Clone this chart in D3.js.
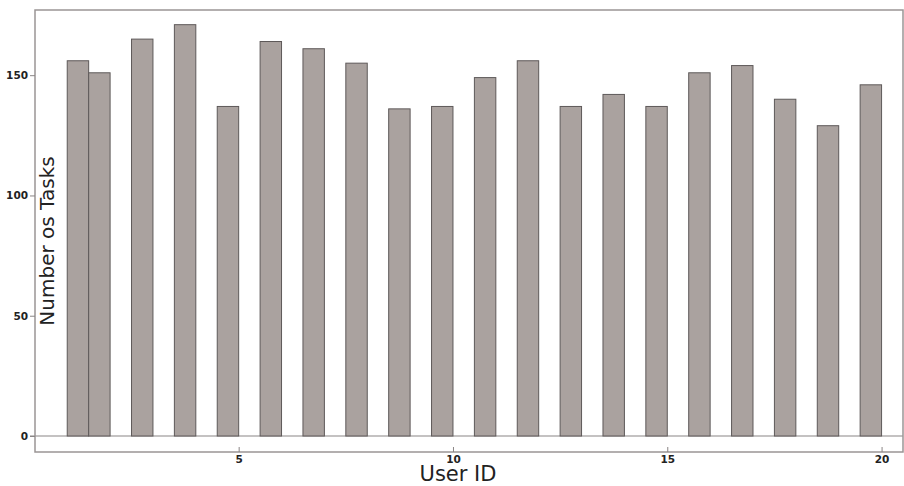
<!DOCTYPE html>
<html>
<head>
<meta charset="utf-8">
<script src="https://cdn.jsdelivr.net/npm/d3@7"></script>
<style>
  html, body { margin: 0; padding: 0; background: #fff; }
  svg { display: block; }
</style>
</head>
<body>
<svg id="chart" width="904" height="486"></svg>
<script>
// ---- data ----
const userIds   = [1, 2, 3, 4, 5, 6, 7, 8, 9, 10, 11, 12, 13, 14, 15, 16, 17, 18, 19, 20];
const barRight  = [1.5, 2, 3, 4, 5, 6, 7, 8, 9, 10, 11, 12, 13, 14, 15, 16, 17, 18, 19, 20];
const taskCount = [156, 151, 165, 171, 137, 164, 161, 155, 136, 137, 149, 156, 137, 142, 137, 151, 154, 140, 129, 146];
const xTicks = [5, 10, 15, 20];
const yTicks = [0, 50, 100, 150];
const xLabel = "User ID";
const yLabel = "Number os Tasks";

(function () {
const svg = d3.select("#chart");
const pLeft = 35, pRight = 903, pTop = 10, pBottom = 452;

const x = d3.scaleLinear().domain([0.248, 20.5]).range([pLeft, pRight]);
const y = d3.scaleLinear().domain([-6.65, 177.1]).range([pBottom, pTop]);

const data = userIds.map((u, i) => ({ u, r: barRight[i], v: taskCount[i] }));

// zero line
svg.append("line")
  .attr("x1", 30).attr("x2", pRight)
  .attr("y1", y(0)).attr("y2", y(0))
  .attr("stroke", "#8a8585").attr("stroke-width", 1.2);

// bars
svg.append("g").selectAll("rect").data(data).join("rect")
  .attr("x", d => x(d.r - 0.5))
  .attr("width", d => x(d.r) - x(d.r - 0.5))
  .attr("y", d => y(d.v))
  .attr("height", d => y(0) - y(d.v))
  .attr("fill", "#aaa29f")
  .attr("stroke", "#5e5959")
  .attr("stroke-width", 1);

// frame
svg.append("rect")
  .attr("x", pLeft).attr("y", pTop)
  .attr("width", pRight - pLeft).attr("height", pBottom - pTop)
  .attr("fill", "none").attr("stroke", "#9a9595").attr("stroke-width", 1.5);

// y axis
const yAxis = svg.append("g")
  .attr("transform", `translate(${pLeft},0)`)
  .call(d3.axisLeft(y).tickValues(yTicks).tickSize(5).tickPadding(2).tickFormat(d3.format("d")));
yAxis.select(".domain").remove();
yAxis.selectAll(".tick line").attr("stroke", "#8a8585");
yAxis.selectAll("text")
  .attr("font-family", "DejaVu Sans").attr("font-weight", "bold")
  .attr("font-size", 10.5).attr("fill", "#222");

// x axis
const xAxis = svg.append("g")
  .attr("transform", `translate(0,${pBottom})`)
  .call(d3.axisBottom(x).tickValues(xTicks).tickSize(-5).tickPadding(4).tickFormat(d3.format("d")));
xAxis.select(".domain").remove();
xAxis.selectAll(".tick line").attr("stroke", "#8a8585");
xAxis.selectAll("text")
  .attr("font-family", "DejaVu Sans").attr("font-weight", "bold")
  .attr("font-size", 10.5).attr("fill", "#222");

// axis titles
svg.append("text")
  .attr("x", 458).attr("y", 481)
  .attr("text-anchor", "middle")
  .attr("font-family", "DejaVu Sans").attr("font-size", 21)
  .attr("fill", "#222")
  .text(xLabel);

svg.append("text")
  .attr("transform", "translate(54,241) rotate(-90)")
  .attr("text-anchor", "middle")
  .attr("font-family", "DejaVu Sans").attr("font-size", 20)
  .attr("fill", "#222")
  .text(yLabel);
})();
</script>
</body>
</html>
